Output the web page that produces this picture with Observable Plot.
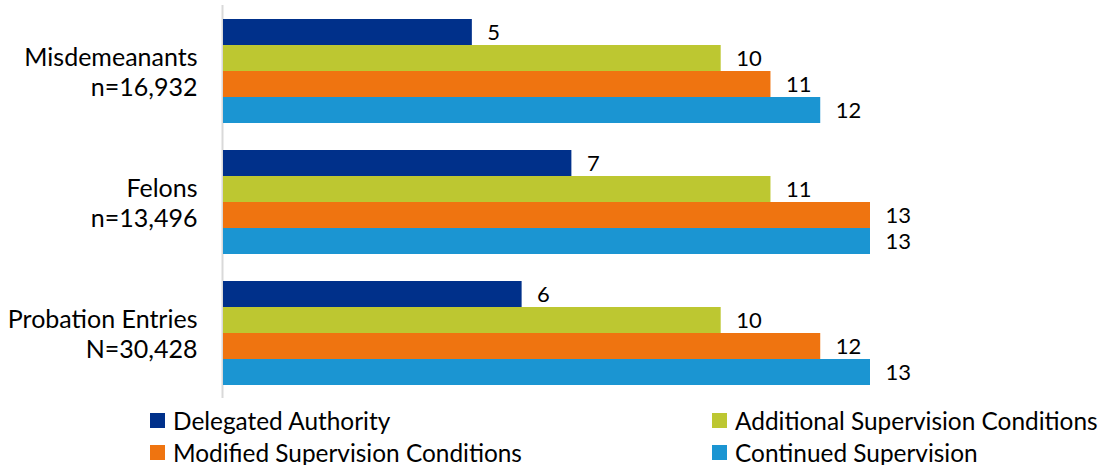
<!DOCTYPE html>
<html><head><meta charset="utf-8">
<script src="https://cdn.jsdelivr.net/npm/d3@7"></script>
<script src="https://cdn.jsdelivr.net/npm/@observablehq/plot@0.6"></script>
<style>
body{margin:0;background:#fff;font-family:Lato,"Open Sans",sans-serif;}
#chart{position:relative;width:1101px;height:465px;overflow:hidden;}
#chart svg{position:absolute;left:0;top:0;}
.leg{position:absolute;display:flex;align-items:center;font-size:24.4px;color:#000;white-space:nowrap;height:30px;}
.sw{width:15px;height:15px;margin-right:8px;flex:none;}
</style></head><body><div id="chart"></div>
<script>
const groups = ["Misdemeanants", "Felons", "Probation Entries"];
const groupCounts = ["n=16,932", "n=13,496", "N=30,428"];
const series = ["Delegated Authority", "Additional Supervision Conditions", "Modified Supervision Conditions", "Continued Supervision"];
const seriesColors = ["#00308A", "#BDC731", "#EF7410", "#1B95D2"];
const misdemeanants = [5, 10, 11, 12];
const felons = [7, 11, 13, 13];
const probationEntries = [6, 10, 12, 13];
const legendColumns = [[0, 2], [1, 3]];

const valuesByGroup = [misdemeanants, felons, probationEntries];
const data = [];
groups.forEach((g, gi) => series.forEach((s, si) => data.push({group: g, series: s, value: valuesByGroup[gi][si]})));
const groupLabels = groups.map((g, i) => ({group: g, label: g + "\n" + groupCounts[i]}));

const plot = Plot.plot({
  width: 1101,
  height: 400,
  marginLeft: 223,
  marginRight: 231,
  marginTop: 5,
  marginBottom: 2,
  style: {fontFamily: "Lato, 'Open Sans', sans-serif", fontSize: "22px", color: "#000", background: "#fff"},
  x: {domain: [0, 13], axis: null},
  y: {domain: series, axis: null, paddingInner: 0, paddingOuter: 0.5},
  fy: {domain: groups, axis: null, padding: 0},
  color: {domain: series, range: seriesColors},
  marks: [
    Plot.ruleX([0], {stroke: "#d9d9d9", strokeWidth: 2, dx: -1}),
    Plot.barX(data, {x: "value", y: "series", fy: "group", fill: "series"}),
    Plot.text(data, {x: "value", y: "series", fy: "group", text: d => String(d.value), textAnchor: "start", dx: 15, fill: "#000", fontSize: 22}),
    Plot.text(groupLabels, {fy: "group", text: "label", frameAnchor: "left", textAnchor: "end", dx: -26, lineHeight: 1.2, fill: "#000", fontSize: 25})
  ]
});
const chart = document.getElementById("chart");
chart.appendChild(plot);

const legendX = [150, 712];
const legendY = [405, 437];
legendColumns.forEach((col, ci) => col.forEach((si, ri) => {
  const d = document.createElement("div");
  d.className = "leg";
  d.style.left = legendX[ci] + "px";
  d.style.top = legendY[ri] + "px";
  d.innerHTML = `<span class="sw" style="background:${seriesColors[si]}"></span><span>${series[si]}</span>`;
  chart.appendChild(d);
}));
</script>
</body></html>
